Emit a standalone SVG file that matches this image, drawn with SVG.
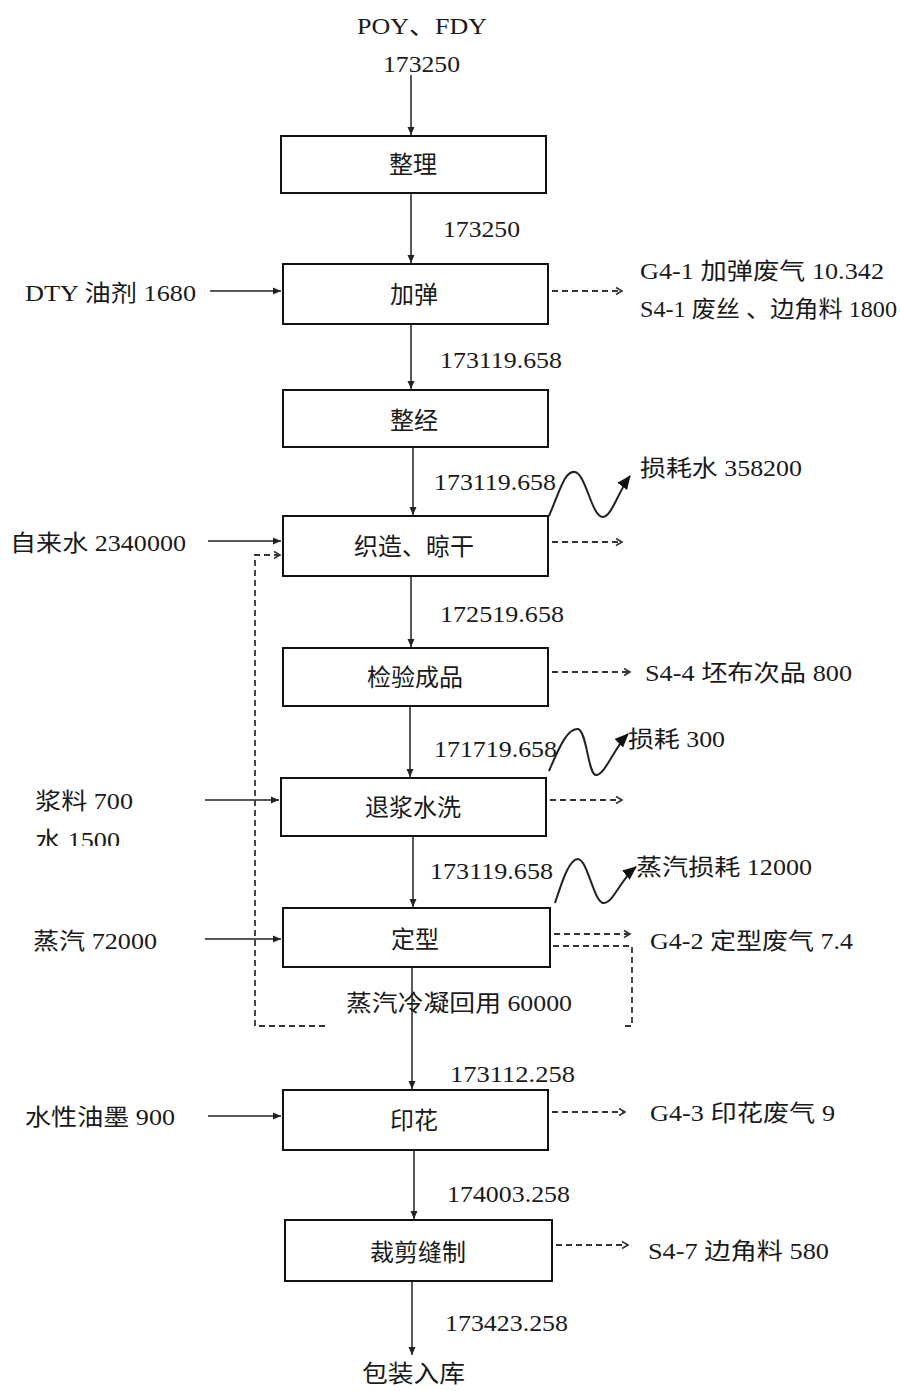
<svg xmlns="http://www.w3.org/2000/svg" width="901" height="1391" viewBox="0 0 901 1391">
<style>
.box{fill:#fff;stroke:#111;stroke-width:2}
.t{font-family:"Liberation Serif","Noto Sans CJK SC",serif;font-size:23px;fill:#1a1a1a}
.c{font-family:"Noto Sans CJK SC","Liberation Sans",sans-serif;font-size:24px;fill:#1a1a1a}
.flow{stroke:#222;stroke-width:1.5;fill:none}
.dash{stroke:#333;stroke-width:1.8;fill:none;stroke-dasharray:6 4}
.wave{stroke:#222;stroke-width:2;fill:none}
</style>
<defs>
<marker id="ah" markerWidth="10" markerHeight="10" refX="9" refY="5" orient="auto" markerUnits="userSpaceOnUse">
<path d="M1,1.5 L9,5 L1,8.5 Z" fill="#222"/>
</marker>
<marker id="ao" markerWidth="10" markerHeight="10" refX="8" refY="5" orient="auto" markerUnits="userSpaceOnUse">
<path d="M2,1.5 L8,5 L2,8.5" fill="none" stroke="#333" stroke-width="1.6"/>
</marker>
<marker id="aw" markerWidth="16" markerHeight="16" refX="13" refY="8" orient="auto" markerUnits="userSpaceOnUse">
<path d="M0,2 L14,8 L0,14 Z" fill="#111"/>
</marker>
<clipPath id="clipw"><rect x="0" y="820" width="200" height="26"/></clipPath>
</defs>

<g id="connectors">
<line class="flow" x1="411" y1="75" x2="411" y2="135" marker-end="url(#ah)"/>
<line class="flow" x1="411" y1="193" x2="411" y2="263" marker-end="url(#ah)"/>
<line class="flow" x1="411" y1="324" x2="411" y2="389" marker-end="url(#ah)"/>
<line class="flow" x1="413" y1="447" x2="413" y2="515" marker-end="url(#ah)"/>
<line class="flow" x1="411" y1="576" x2="411" y2="647" marker-end="url(#ah)"/>
<line class="flow" x1="410" y1="706" x2="410" y2="777" marker-end="url(#ah)"/>
<line class="flow" x1="413" y1="836" x2="413" y2="907" stroke-width="1" marker-end="url(#ah)"/>
<line class="flow" x1="412" y1="967" x2="412" y2="1089" marker-end="url(#ah)"/>
<line class="flow" x1="414" y1="1150" x2="414" y2="1219" marker-end="url(#ah)"/>
<line class="flow" x1="412" y1="1281" x2="412" y2="1355" marker-end="url(#ah)"/>

<line class="flow" x1="210" y1="291" x2="281" y2="291" marker-end="url(#ah)"/>
<line class="flow" x1="208" y1="541" x2="281" y2="541" marker-end="url(#ah)"/>
<line class="flow" x1="205" y1="800" x2="279" y2="800" marker-end="url(#ah)"/>
<line class="flow" x1="205" y1="939" x2="281" y2="939" marker-end="url(#ah)"/>
<line class="flow" x1="208" y1="1116" x2="281" y2="1116" marker-end="url(#ah)"/>

<line class="dash" x1="552" y1="291" x2="622" y2="291" marker-end="url(#ao)"/>
<line class="dash" x1="552" y1="542" x2="622" y2="542" marker-end="url(#ao)"/>
<line class="dash" x1="552" y1="672" x2="630" y2="672" marker-end="url(#ao)"/>
<line class="dash" x1="550" y1="800" x2="622" y2="800" marker-end="url(#ao)"/>
<line class="dash" x1="554" y1="934" x2="630" y2="934" marker-end="url(#ao)"/>
<line class="dash" x1="552" y1="1112" x2="625" y2="1112" marker-end="url(#ao)"/>
<line class="dash" x1="556" y1="1245" x2="628" y2="1245" marker-end="url(#ao)"/>

<path class="dash" d="M325,1026 H255 V555 H280" marker-end="url(#ao)"/>
<path class="dash" d="M553,946 H632 V1026 H625"/>

<path class="wave" d="M549,516 C560,490 565,470 575,472 C586,474 592,518 603,517 C612,516 618,492 630,476" marker-end="url(#aw)"/>
<path class="wave" d="M549,771 C560,745 568,728 578,729 C587,731 588,775 596,775 C605,775 614,748 628,734" marker-end="url(#aw)"/>
<path class="wave" d="M555,903 C562,882 569,859 578,859 C588,860 594,904 604,903 C614,902 620,880 636,867" marker-end="url(#aw)"/>
</g>

<g id="n1"><rect class="box" x="281" y="136" width="265" height="57"/><text class="c" x="413" y="173" text-anchor="middle">整理</text></g>
<g id="n2"><rect class="box" x="283" y="264" width="265" height="60"/><text class="c" x="414" y="303" text-anchor="middle">加弹</text></g>
<g id="n3"><rect class="box" x="283" y="390" width="265" height="57"/><text class="c" x="414" y="429" text-anchor="middle">整经</text></g>
<g id="n4"><rect class="box" x="283" y="516" width="265" height="60"/><text class="c" x="414" y="555" text-anchor="middle">织造、晾干</text></g>
<g id="n5"><rect class="box" x="283" y="648" width="265" height="58"/><text class="c" x="415" y="686" text-anchor="middle">检验成品</text></g>
<g id="n6"><rect class="box" x="281" y="778" width="265" height="58"/><text class="c" x="413" y="816" text-anchor="middle">退浆水洗</text></g>
<g id="n7"><rect class="box" x="283" y="908" width="267" height="59"/><text class="c" x="415" y="948" text-anchor="middle">定型</text></g>
<g id="n8"><rect class="box" x="283" y="1090" width="265" height="60"/><text class="c" x="414" y="1129" text-anchor="middle">印花</text></g>
<g id="n9"><rect class="box" x="285" y="1220" width="267" height="61"/><text class="c" x="418" y="1261" text-anchor="middle">裁剪缝制</text></g>

<g id="labels">
<text class="t" x="357" y="34" textLength="130" lengthAdjust="spacingAndGlyphs">POY、FDY</text>
<text class="t" x="383" y="72" textLength="77" lengthAdjust="spacingAndGlyphs">173250</text>
<text class="t" x="443" y="237" textLength="77" lengthAdjust="spacingAndGlyphs">173250</text>
<text class="t" x="25" y="301" textLength="171" lengthAdjust="spacingAndGlyphs">DTY 油剂 1680</text>
<text class="t" x="640" y="279" textLength="244" lengthAdjust="spacingAndGlyphs">G4-1 加弹废气 10.342</text>
<text class="t" x="640" y="317" textLength="257" lengthAdjust="spacingAndGlyphs">S4-1 废丝 、边角料 1800</text>
<text class="t" x="440" y="368" textLength="122" lengthAdjust="spacingAndGlyphs">173119.658</text>
<text class="t" x="434" y="490" textLength="122" lengthAdjust="spacingAndGlyphs">173119.658</text>
<text class="t" x="640" y="476" textLength="162" lengthAdjust="spacingAndGlyphs">损耗水 358200</text>
<text class="t" x="10" y="551" textLength="176" lengthAdjust="spacingAndGlyphs">自来水 2340000</text>
<text class="t" x="440" y="622" textLength="124" lengthAdjust="spacingAndGlyphs">172519.658</text>
<text class="t" x="645" y="681" textLength="207" lengthAdjust="spacingAndGlyphs">S4-4 坯布次品 800</text>
<text class="t" x="434" y="757" textLength="123" lengthAdjust="spacingAndGlyphs">171719.658</text>
<text class="t" x="628" y="747" textLength="97" lengthAdjust="spacingAndGlyphs">损耗 300</text>
<text class="t" x="35" y="809" textLength="98" lengthAdjust="spacingAndGlyphs">浆料 700</text>
<text class="t" x="35" y="848" textLength="85" lengthAdjust="spacingAndGlyphs" clip-path="url(#clipw)">水 1500</text>
<text class="t" x="430" y="879" textLength="123" lengthAdjust="spacingAndGlyphs">173119.658</text>
<text class="t" x="636" y="875" textLength="176" lengthAdjust="spacingAndGlyphs">蒸汽损耗 12000</text>
<text class="t" x="33" y="949" textLength="124" lengthAdjust="spacingAndGlyphs">蒸汽 72000</text>
<text class="t" x="650" y="949" textLength="203" lengthAdjust="spacingAndGlyphs">G4-2 定型废气 7.4</text>
<text class="t" x="346" y="1011" textLength="226" lengthAdjust="spacingAndGlyphs">蒸汽冷凝回用 60000</text>
<text class="t" x="450" y="1082" textLength="125" lengthAdjust="spacingAndGlyphs">173112.258</text>
<text class="t" x="25" y="1125" textLength="150" lengthAdjust="spacingAndGlyphs">水性油墨 900</text>
<text class="t" x="650" y="1121" textLength="185" lengthAdjust="spacingAndGlyphs">G4-3 印花废气 9</text>
<text class="t" x="447" y="1202" textLength="123" lengthAdjust="spacingAndGlyphs">174003.258</text>
<text class="t" x="648" y="1259" textLength="181" lengthAdjust="spacingAndGlyphs">S4-7 边角料 580</text>
<text class="t" x="445" y="1331" textLength="123" lengthAdjust="spacingAndGlyphs">173423.258</text>
<text class="c" x="362" y="1382" textLength="103" lengthAdjust="spacingAndGlyphs">包装入库</text>
</g>
</svg>
